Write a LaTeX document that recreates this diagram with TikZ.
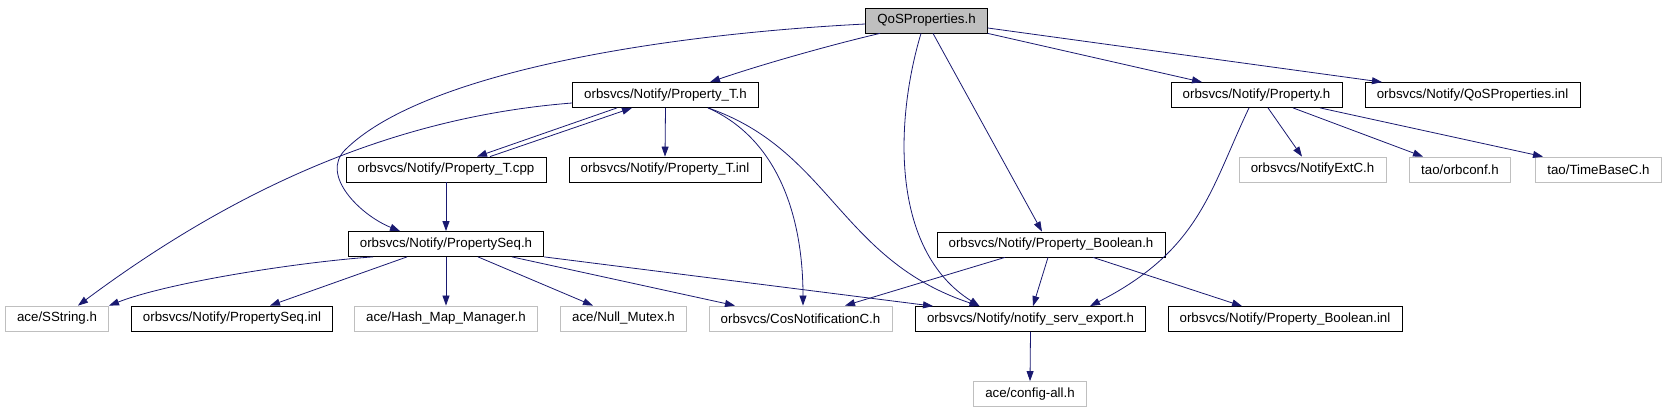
\documentclass[tikz,border=0pt]{standalone}
\usepackage{fontspec}
\setmainfont{Liberation Sans}
\usepackage{xcolor}
\usetikzlibrary{arrows.meta}
\definecolor{edgeblue}{HTML}{191970}
\definecolor{boxgray}{HTML}{BFBFBF}

\begin{document}
\begin{tikzpicture}[x=1pt,y=-1pt,
  hdr/.style={draw=black,line width=0.8pt,inner xsep=11.7pt,inner ysep=0pt,
    minimum height=25pt,font=\fontsize{13.3}{16}\selectfont},
  ext/.style={hdr,draw=boxgray},
  inc/.style={draw=edgeblue,line width=0.8pt,-{Triangle[length=10pt,width=7pt]},edgeblue}]

\useasboundingbox (0,0) rectangle (1665,411);

\node [hdr,fill=boxgray] (qos) at (926.5,20.5) {QoSProperties.h};

\node [hdr] (propT) at (665.5,95) {orbsvcs/Notify/Property\_T.h};
\node [hdr] (prop) at (1256.5,95) {orbsvcs/Notify/Property.h};
\node [hdr] (qosinl) at (1472.5,95) {orbsvcs/Notify/QoSProperties.inl};

\node [hdr] (propTcpp) at (446,169.5) {orbsvcs/Notify/Property\_T.cpp};
\node [hdr] (propTinl) at (665,169.5) {orbsvcs/Notify/Property\_T.inl};
\node [ext] (extc) at (1312.5,169.5) {orbsvcs/NotifyExtC.h};
\node [ext] (orbconf) at (1460,169.5) {tao/orbconf.h};
\node [ext] (timebase) at (1598.5,169.5) {tao/TimeBaseC.h};

\node [hdr] (propseq) at (446,244) {orbsvcs/Notify/PropertySeq.h};
\node [hdr] (propbool) at (1051,244.5) {orbsvcs/Notify/Property\_Boolean.h};

\node [ext] (sstring) at (57,318.5) {ace/SString.h};
\node [hdr] (propseqinl) at (232,318.5) {orbsvcs/Notify/PropertySeq.inl};
\node [ext] (hashmap) at (446,318.5) {ace/Hash\_Map\_Manager.h};
\node [ext] (nullmutex) at (623.5,318.5) {ace/Null\_Mutex.h};
\node [ext] (cosnotif) at (800.5,318.5) {orbsvcs/CosNotificationC.h};
\node [hdr] (servexport) at (1030.5,319) {orbsvcs/Notify/notify\_serv\_export.h};
\node [hdr] (propboolinl) at (1285,319) {orbsvcs/Notify/Property\_Boolean.inl};

\node [ext] (configall) at (1030,394) {ace/config-all.h};

% QoSProperties.h
\draw [inc] ([xshift=-46.5pt]qos.south) .. controls (830,45) and (760,65) .. ([xshift=44.5pt]propT.north);
\draw [inc] ([yshift=-3.5pt]qos.west) .. controls (650,35) and (420,75) .. (345,150)
  .. controls (320,175) and (360,215) .. ([xshift=-46pt]propseq.north);
\draw [inc] ([xshift=-5.5pt]qos.south) .. controls (895,120) and (890,250) .. ([xshift=-51pt]servexport.north);
\draw [inc] ([xshift=6.5pt]qos.south) -- ([xshift=-9pt]propbool.north);
\draw [inc] (qos.south east) -- ([xshift=-54.5pt]prop.north);
\draw [inc] ([yshift=-7.5pt]qos.east) -- ([xshift=-90.5pt]qosinl.north);

% Property_T.h
\draw [inc] ([yshift=-8pt]propT.west) .. controls (420,115) and (260,170) .. ([xshift=21pt]sstring.north);
\draw [inc] ([xshift=-48.5pt]propT.south) -- ([xshift=31pt]propTcpp.north);
\draw [inc] ([xshift=44pt]propTcpp.north) -- ([xshift=-33.5pt]propT.south);
\draw [inc] (propT.south) -- (propTinl.north);
\draw [inc] ([xshift=42.5pt]propT.south) .. controls (780,140) and (803,220) .. ([xshift=2.5pt]cosnotif.north);
\draw [inc] ([xshift=42.5pt]propT.south) .. controls (830,150) and (840,260) .. ([xshift=-51pt]servexport.north);

% Property.h
\draw [inc] ([xshift=-7.5pt]prop.south) .. controls (1210,190) and (1200,250) .. ([xshift=59.5pt]servexport.north);
\draw [inc] ([xshift=11.5pt]prop.south) -- ([xshift=-10.5pt]extc.north);
\draw [inc] ([xshift=36.5pt]prop.south) -- ([xshift=-37pt]orbconf.north);
\draw [inc] ([xshift=63.5pt]prop.south) -- ([xshift=-55.5pt]timebase.north);

% PropertySeq.h
\draw [inc] (propTcpp.south) -- (propseq.north);
\draw [inc] ([xshift=-73pt]propseq.south) .. controls (300,262) and (170,282) .. (sstring.north east);
\draw [inc] ([xshift=-39pt]propseq.south) -- ([xshift=38pt]propseqinl.north);
\draw [inc] (propseq.south) -- (hashmap.north);
\draw [inc] ([xshift=32pt]propseq.south) -- ([xshift=-30.5pt]nullmutex.north);
\draw [inc] ([xshift=66pt]propseq.south) -- ([xshift=-65.5pt]cosnotif.north);
\draw [inc] (propseq.south east) -- ([xshift=-97.5pt]servexport.north);

% Property_Boolean.h
\draw [inc] ([xshift=-46pt]propbool.south) -- ([xshift=44.5pt]cosnotif.north);
\draw [inc] ([xshift=-3pt]propbool.south) -- ([xshift=2.5pt]servexport.north);
\draw [inc] ([xshift=42pt]propbool.south) -- ([xshift=-43pt]propboolinl.north);

\draw [inc] (servexport.south) -- (configall.north);

\end{tikzpicture}
\end{document}
